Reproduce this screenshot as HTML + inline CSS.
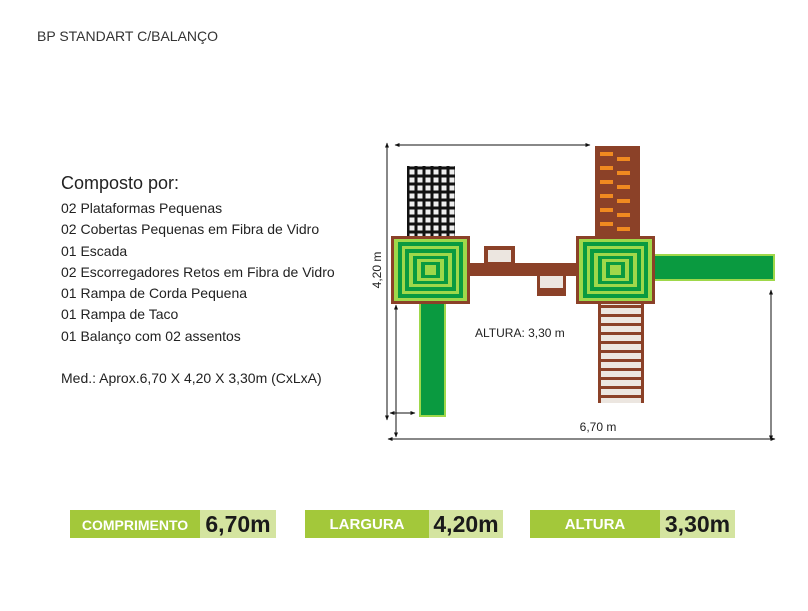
<!DOCTYPE html>
<html><head><meta charset="utf-8"><style>
body{margin:0;width:808px;height:611px;background:#fff;position:relative;overflow:hidden;font-family:"Liberation Sans",sans-serif;color:#222}
.t{position:absolute;white-space:nowrap}
.bar{position:absolute;top:510px;height:28px;background:#a3c83a;font-weight:bold}
.bar .l{position:absolute;left:0;top:0;height:28px;line-height:30px;color:#fff;font-size:15px;text-align:center}
.bar .r{position:absolute;top:0;right:0;height:28px;line-height:28px;background:#d4e4a0;color:#1a1a1a;font-size:23px;text-align:center}
</style></head><body>
<div class="t" style="left:37px;top:28px;font-size:14px;color:#333">BP STANDART C/BALANÇO</div>
<div class="t" style="left:61px;top:173px;font-size:18px">Composto por:</div>
<div class="t" style="left:61px;top:198px;font-size:14px;line-height:21.3px">02 Plataformas Pequenas<br>02 Cobertas Pequenas em Fibra de Vidro<br>01 Escada<br>02 Escorregadores Retos em Fibra de Vidro<br>01 Rampa de Corda Pequena<br>01 Rampa de Taco<br>01 Balanço com 02 assentos</div>
<div class="t" style="left:61px;top:370px;font-size:14px">Med.: Aprox.6,70 X 4,20 X 3,30m (CxLxA)</div>
<svg width="808" height="611" style="position:absolute;left:0;top:0" font-family="Liberation Sans,sans-serif">
<defs><pattern id="net" width="8" height="8" patternUnits="userSpaceOnUse"><rect width="8" height="8" fill="#111"/><rect x="1.5" y="1.5" width="5" height="5" fill="#eee"/></pattern>
<pattern id="lad" width="46" height="9" patternUnits="userSpaceOnUse"><rect width="46" height="9" fill="#8b4128"/><rect x="3" y="2" width="40" height="6" fill="#ece6e0"/></pattern>
<marker id="a" viewBox="0 0 10 10" refX="9" refY="5" markerWidth="5" markerHeight="5" orient="auto-start-reverse"><path d="M0,1 L10,5 L0,9 z" fill="#111"/></marker></defs>
<g stroke="#111" stroke-width="1" fill="none" marker-start="url(#a)" marker-end="url(#a)">
<line x1="395" y1="145" x2="590" y2="145"/><line x1="387" y1="143" x2="387" y2="420"/>
<line x1="396" y1="305" x2="396" y2="437"/><line x1="390" y1="413" x2="415" y2="413"/>
<line x1="388" y1="439" x2="775" y2="439"/><line x1="771" y1="290" x2="771" y2="440"/>
</g>
<rect x="407" y="166" width="48" height="71" fill="url(#net)"/>
<rect x="595" y="146" width="45" height="92" fill="#8b4128"/>
<g fill="#f08a20"><rect x="600" y="152" width="13" height="4"/><rect x="617" y="157" width="13" height="4"/><rect x="600" y="166" width="13" height="4"/><rect x="617" y="171" width="13" height="4"/><rect x="600" y="180" width="13" height="4"/><rect x="617" y="185" width="13" height="4"/><rect x="600" y="194" width="13" height="4"/><rect x="617" y="199" width="13" height="4"/><rect x="600" y="208" width="13" height="4"/><rect x="617" y="213" width="13" height="4"/><rect x="600" y="222" width="13" height="4"/><rect x="617" y="227" width="13" height="4"/></g>
<rect x="598" y="304" width="46" height="99" fill="url(#lad)"/>
<rect x="470" y="263" width="108" height="13" fill="#8b4128"/>
<rect x="484" y="246" width="31" height="18" fill="#8b4128"/><rect x="488" y="250" width="23" height="12" fill="#ece6e0"/>
<rect x="537" y="275" width="29" height="21" fill="#8b4128"/><rect x="540" y="276" width="23" height="12" fill="#ece6e0"/>
<rect x="419" y="303" width="27" height="114" fill="#9fd84a"/><rect x="421" y="303" width="23" height="112" fill="#0a9a40"/>
<rect x="653" y="254" width="122" height="27" fill="#9fd84a"/><rect x="655" y="256" width="118" height="23" fill="#0a9a40"/>
<g id="p1">
<rect x="391" y="236" width="79" height="68" fill="#8b4128"/>
<rect x="394" y="239" width="73" height="62" fill="#9fd84a"/>
<rect x="398" y="242" width="65" height="56" fill="#0a9a40"/>
<rect x="402" y="246" width="57" height="48" fill="#9fd84a"/>
<rect x="405" y="249" width="51" height="42" fill="#0a9a40"/>
<rect x="409" y="253" width="43" height="34" fill="#9fd84a"/>
<rect x="413" y="256" width="35" height="28" fill="#0a9a40"/>
<rect x="417" y="259" width="27" height="22" fill="#9fd84a"/>
<rect x="421" y="262" width="19" height="16" fill="#0a9a40"/>
<rect x="425" y="265" width="11" height="10" fill="#9fd84a"/>
</g>
<use href="#p1" x="185"/>
<text x="381" y="270" font-size="12" fill="#222" text-anchor="middle" transform="rotate(-90 381 270)">4,20 m</text>
<text x="598" y="431" font-size="12" fill="#222" text-anchor="middle">6,70 m</text>
<text x="475" y="337" font-size="12" fill="#222">ALTURA: 3,30 m</text>
</svg>
<div class="bar" style="left:70px;width:206px"><div class="l" style="width:130px;font-size:14px">COMPRIMENTO</div><div class="r" style="width:76px">6,70m</div></div>
<div class="bar" style="left:305px;width:198px"><div class="l" style="width:124px">LARGURA</div><div class="r" style="width:74px">4,20m</div></div>
<div class="bar" style="left:530px;width:205px"><div class="l" style="width:130px">ALTURA</div><div class="r" style="width:75px">3,30m</div></div>
</body></html>
